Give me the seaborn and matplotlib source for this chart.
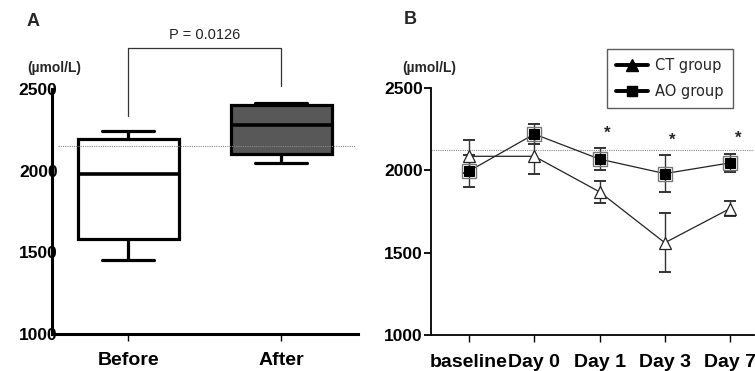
import numpy as np
import pandas as pd
import matplotlib
matplotlib.use("Agg")
import matplotlib.pyplot as plt
from matplotlib.lines import Line2D
import seaborn as sns

# ---------------- data ----------------
box_groups = ["Before", "After"]
before_vals = [1453, 1584, 1980, 2192, 2243]   # min, q1, median, q3, max
after_vals = [2045, 2100, 2280, 2402, 2412]
ref_line_a = 2151
p_text = "P = 0.0126"
bracket_y = [2335, 2750, 2750, 2518]

timepoints = ["baseline", "Day 0", "Day 1", "Day 3", "Day 7"]
ct_mean = [2085, 2085, 1869, 1560, 1768]
ct_err = [100, 108, 68, 178, 43]
ao_mean = [1995, 2220, 2068, 1980, 2045]
ao_err = [95, 60, 68, 113, 55]
ref_line_b = 2126
star_idx = [2, 3, 4]
star_y = [2225, 2180, 2195]

ylim = (1000, 2500)
yticks = [1000, 1500, 2000, 2500]

sns.set_theme(style="white")
plt.rcParams['font.family'] = ['Liberation Sans', 'DejaVu Sans']

fig = plt.figure(figsize=(7.55, 3.71), dpi=100)
axA = fig.add_axes([0.0689, 0.0997, 0.4051, 0.6603])
axB = fig.add_axes([0.571, 0.097, 0.428, 0.666])

# ---------------- panel A ----------------
dfA = pd.DataFrame({
    "group": ["Before"] * len(before_vals) + ["After"] * len(after_vals),
    "value": before_vals + after_vals,
})
sns.boxplot(data=dfA, x="group", y="value", order=box_groups, ax=axA,
            hue="group", palette={"Before": "white", "After": "#585858"},
            legend=False, whis=(0, 100), width=0.66, showfliers=False,
            linewidth=2.3, linecolor="black",
            medianprops=dict(color="black", linewidth=2.6),
            capprops=dict(color="black", linewidth=2.3),
            whiskerprops=dict(color="black", linewidth=2.3),
            boxprops=dict(edgecolor="black", linewidth=2.3))
for ln in axA.lines:
    xd = ln.get_xdata()
    # shrink caps to ~ half box width
    if len(xd) == 2 and xd[0] != xd[1] and abs(xd[1] - xd[0]) < 0.4:
        c = (xd[0] + xd[1]) / 2
        ln.set_xdata([c - 0.17, c + 0.17])
axA.axhline(ref_line_a, xmin=0.02, xmax=0.99, color="#888888", lw=0.8,
            ls=(0, (1, 1)), zorder=5)
axA.set_xlim(-0.5, 1.5)
axA.set_ylim(*ylim)
axA.set_yticks(yticks)
axA.set_xlabel("")
axA.set_ylabel("")
for s in ["top", "right"]:
    axA.spines[s].set_visible(False)
for s in ["left", "bottom"]:
    axA.spines[s].set_linewidth(2.2)
    axA.spines[s].set_color("black")
axA.tick_params(axis="y", length=0, pad=-4, labelsize=12.5)
axA.tick_params(axis="x", length=5, width=1, direction="out", colors="black",
                labelsize=14, pad=8, bottom=True)
for lab in axA.get_yticklabels() + axA.get_xticklabels():
    lab.set_fontweight("bold")
    lab.set_color("black")
# significance bracket
axA.plot([0, 0, 1, 1], bracket_y, color="#333333", lw=0.9, clip_on=False)
axA.text(0.5, bracket_y[1] + 35, p_text, ha="center", va="bottom",
         fontsize=10.5, color="#222222")

fig.text(27 / 755, 1 - 22 / 371, "A", fontsize=13, fontweight="bold",
         va="center", ha="left")
fig.text(27 / 755, 1 - 68 / 371, "(µmol/L)", fontsize=10, fontweight="bold",
         va="center", ha="left")

# ---------------- panel B ----------------
xpos = np.arange(len(timepoints))
dfB = pd.DataFrame({
    "x": list(xpos) * 2,
    "value": ct_mean + ao_mean,
    "group": ["CT group"] * len(xpos) + ["AO group"] * len(xpos),
})
axB.axhline(ref_line_b, color="#888888", lw=0.8, ls=(0, (1, 1)), zorder=1)
axB.errorbar(xpos, ct_mean, yerr=ct_err, fmt="none", ecolor="#333333",
             elinewidth=1.0, capsize=4, capthick=1.4, zorder=2)
axB.errorbar(xpos, ao_mean, yerr=ao_err, fmt="none", ecolor="#333333",
             elinewidth=1.0, capsize=4, capthick=1.4, zorder=2)
sns.lineplot(data=dfB, x="x", y="value", hue="group", style="group",
             palette={"CT group": "#222222", "AO group": "#222222"},
             markers={"CT group": "^", "AO group": "s"},
             dashes=False, legend=False, ax=axB, lw=0.9, zorder=3)
for ln in axB.lines:
    m = ln.get_marker()
    if m == "^":
        ln.set_markerfacecolor("white")
        ln.set_markeredgecolor("#222222")
        ln.set_markersize(8.5)
        ln.set_markeredgewidth(0.9)
    elif m == "s":
        ln.set_markerfacecolor("black")
        ln.set_markeredgecolor("black")
        ln.set_markersize(7)
axB.plot(xpos, ao_mean, ls="none", marker="s", ms=10.5, mfc="none",
         mec="#777777", mew=1.0, zorder=4)
for i, yv in zip(star_idx, star_y):
    axB.text(xpos[i] + 0.12, yv, "*", ha="center", va="center",
             fontsize=12, fontweight="bold")

axB.set_xlim(-0.58, 4.37)
axB.set_ylim(*ylim)
axB.set_yticks(yticks)
axB.set_xticks(xpos)
axB.set_xticklabels(timepoints)
axB.set_xlabel("")
axB.set_ylabel("")
for s in ["top", "right"]:
    axB.spines[s].set_visible(False)
axB.spines["left"].set_linewidth(1.3)
axB.spines["bottom"].set_linewidth(1.3)
axB.spines["left"].set_color("black")
axB.spines["bottom"].set_color("black")
axB.tick_params(axis="y", length=5, width=1.3, direction="out", colors="black",
                labelsize=12.5, pad=1, left=True)
axB.tick_params(axis="x", length=5, width=1, direction="out", colors="black",
                labelsize=14, pad=9, bottom=True)
for lab in axB.get_yticklabels() + axB.get_xticklabels():
    lab.set_fontweight("bold")
    lab.set_color("black")

handles = [
    Line2D([], [], color="black", lw=2.8, marker="^", ms=8, mfc="black"),
    Line2D([], [], color="black", lw=2.8, marker="s", ms=7, mfc="black"),
]
leg = fig.legend(handles, ["CT group", "AO group"], loc="upper right",
                 bbox_to_anchor=(740 / 755, 1 - 42 / 371), frameon=True,
                 handlelength=2.2, borderpad=0.6, labelspacing=0.75,
                 handletextpad=0.5, fancybox=False,
                 prop={"family": ["DejaVu Sans"], "size": 10.5})
leg.get_frame().set_edgecolor("#333333")
leg.get_frame().set_linewidth(1.0)

fig.text(404 / 755, 1 - 20 / 371, "B", fontsize=13, fontweight="bold",
         va="center", ha="left")
fig.text(402 / 755, 1 - 68 / 371, "(µmol/L)", fontsize=10, fontweight="bold",
         va="center", ha="left")

fig.savefig("out.png", dpi=100)
